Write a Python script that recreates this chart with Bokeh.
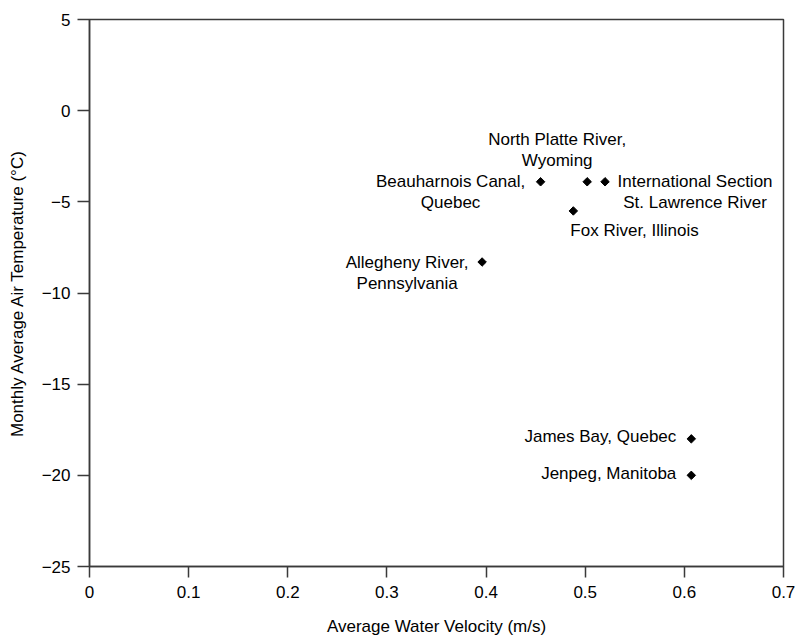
import math
from bokeh.plotting import figure
from bokeh.models import ColumnDataSource, FixedTicker, Range1d
from bokeh.embed import file_html
from bokeh.resources import INLINE

# ---- data ----
sites = ["Beauharnois Canal, Quebec", "North Platte River, Wyoming",
         "International Section St. Lawrence River", "Fox River, Illinois",
         "Allegheny River, Pennsylvania", "James Bay, Quebec", "Jenpeg, Manitoba"]
velocity = [0.455, 0.502, 0.52, 0.488, 0.396, 0.607, 0.607]
air_temp = [-3.9, -3.9, -3.9, -5.5, -8.3, -18.0, -20.0]
label_lines = [["Beauharnois Canal,", "Quebec"],
               ["North Platte River,", "Wyoming"],
               ["International Section", "St. Lawrence River"],
               ["Fox River, Illinois"],
               ["Allegheny River,", "Pennsylvania"],
               ["James Bay, Quebec"],
               ["Jenpeg, Manitoba"]]
x_ticks = [0, 0.1, 0.2, 0.3, 0.4, 0.5, 0.6, 0.7]
x_tick_labels = ["0", "0.1", "0.2", "0.3", "0.4", "0.5", "0.6", "0.7"]
y_ticks = [-25, -20, -15, -10, -5, 0, 5]
y_tick_labels = ["\u221225", "\u221220", "\u221215", "\u221210", "\u22125", "0", "5"]
x_title = "Average Water Velocity (m/s)"
y_title = "Monthly Average Air Temperature (\u00b0C)"

# ---- label layout (pixel offsets: dx, dy of first line, alignment) ----
label_layout = [(-90, 0, "center"), (-30, -42, "center"), (90, 0, "center"),
                (-3, 20, "left"), (-75, 0, "center"), (-15, -2, "right"), (-15, -2, "right")]
LINE_H = 21

FONT = "Liberation Sans"
INK = "#3a3a3a"

p = figure(width=796, height=638, output_backend="svg", toolbar_location=None,
           x_range=Range1d(0, 0.7), y_range=Range1d(-25, 5),
           min_border_left=89, min_border_right=13, min_border_top=19, min_border_bottom=72)
p.background_fill_color = "white"
p.border_fill_color = "white"
p.outline_line_color = INK
p.outline_line_width = 1.5
p.xgrid.visible = False
p.ygrid.visible = False

for ax, ticks, labels, title in ((p.xaxis[0], x_ticks, x_tick_labels, x_title),
                                 (p.yaxis[0], y_ticks, y_tick_labels, y_title)):
    ax.ticker = FixedTicker(ticks=ticks)
    ax.major_label_overrides = dict(zip(ticks, labels))
    ax.axis_label = title
    ax.axis_label_text_font = FONT
    ax.axis_label_text_font_size = "17px"
    ax.axis_label_text_font_style = "normal"
    ax.axis_label_text_color = "black"
    ax.major_label_text_font = FONT
    ax.major_label_text_font_size = "17px"
    ax.major_label_text_color = "black"
    ax.axis_line_color = INK
    ax.axis_line_width = 1.5
    ax.major_tick_line_color = INK
    ax.major_tick_line_width = 1.5
    ax.major_tick_in = 0
    ax.minor_tick_line_color = None

p.xaxis[0].major_tick_out = 11
p.xaxis[0].major_label_standoff = 8
p.xaxis[0].axis_label_standoff = 16
p.yaxis[0].major_tick_out = 12
p.yaxis[0].major_label_standoff = 7
p.yaxis[0].axis_label_standoff = 12

src = ColumnDataSource(dict(x=velocity, y=air_temp, site=sites))
p.scatter("x", "y", source=src, marker="square", size=6, angle=math.pi / 4,
          fill_color="black", line_color="black")

# expand label lines
lx, ly, lt, ldx, ldy, lal = [], [], [], [], [], []
for xv, yv, lines, (dx, dy, al) in zip(velocity, air_temp, label_lines, label_layout):
    for i, line in enumerate(lines):
        lx.append(xv)
        ly.append(yv)
        lt.append(line)
        ldx.append(dx)
        ldy.append(dy + i * LINE_H)
        lal.append(al)

lsrc = ColumnDataSource(dict(x=lx, y=ly, text=lt, dx=ldx, dy=ldy, align=lal))
p.text("x", "y", text="text", source=lsrc, x_offset="dx", y_offset="dy",
       text_align="align", text_baseline="middle",
       text_font_size="17px", text_color="black",
       text_font={"value": FONT})

open("out.html", "w").write(file_html(p, INLINE))
